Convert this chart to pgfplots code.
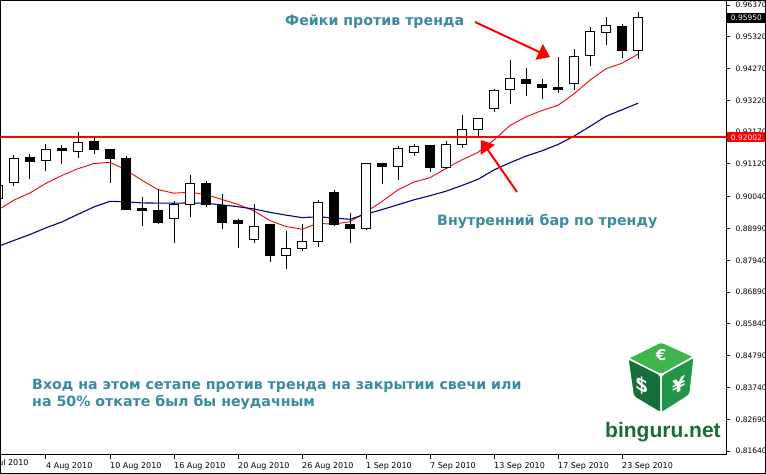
\documentclass[border=0pt]{standalone}
\usepackage{fontspec}
\setmainfont{DejaVu Sans}
\newfontfamily\logofont{Liberation Sans}
\usepackage{pgfplots}
\pgfplotsset{compat=1.18}
\usepackage{pgfplotstable}
\usepgfplotslibrary{statistics}
\usetikzlibrary{arrows.meta}

\definecolor{mtnavy}{RGB}{0,0,128}
\definecolor{mtred}{RGB}{255,0,0}
\definecolor{note}{RGB}{58,138,160}
\definecolor{cubetop}{RGB}{61,181,74}
\definecolor{cubeleft}{RGB}{22,110,56}
\definecolor{cuberight}{RGB}{32,150,70}
\definecolor{logotext}{RGB}{27,107,53}

% moving averages, one value per bar
\pgfplotstableread{
i  red     blue
0  0.89601 0.88399
1  0.89928 0.88597
2  0.90165 0.88792
3  0.90482 0.89013
4  0.90743 0.89208
5  0.90965 0.89459
6  0.91136 0.89703
7  0.91176 0.89888
8  0.90922 0.89872
9  0.90582 0.89835
10 0.90274 0.89829
11 0.90156 0.89825
12 0.90189 0.89835
13 0.90113 0.89822
14 0.89948 0.89769
15 0.89786 0.89710
16 0.89571 0.89634
17 0.89251 0.89525
18 0.89056 0.89432
19 0.88967 0.89350
20 0.89158 0.89376
21 0.89135 0.89337
22 0.89215 0.89294
23 0.89532 0.89465
24 0.89885 0.89614
25 0.90268 0.89776
26 0.90525 0.89938
27 0.90667 0.90073
28 0.90974 0.90222
29 0.91258 0.90410
30 0.91506 0.90615
31 0.91912 0.90925
32 0.92391 0.91163
33 0.92678 0.91381
34 0.92886 0.91556
35 0.93058 0.91764
36 0.93438 0.92041
37 0.93890 0.92361
38 0.94267 0.92695
39 0.94448 0.92909
40 0.94745 0.93127
}\matable

% level line
\pgfplotstableread{
x       y
0.15625 0.92002
45.5    0.92002
}\leveltable

\pgfplotsset{mtcandle/.style={draw=black, line width=1pt}}
% \bull{bar}{low}{open}{close}{high}   \bear{bar}{low}{close}{open}{high}
\newcommand{\bull}[5]{\addplot[mtcandle, fill=white, boxplot/every box/.style={fill=white},
  boxplot prepared={draw position=#1, lower whisker=#2, lower quartile=#3,
  median=#3, upper quartile=#4, upper whisker=#5}] coordinates {};}
\newcommand{\bear}[5]{\addplot[mtcandle, fill=black, boxplot/every box/.style={fill=black},
  boxplot prepared={draw position=#1, lower whisker=#2, lower quartile=#3,
  median=#3, upper quartile=#4, upper whisker=#5}] coordinates {};}

\begin{document}
\begin{tikzpicture}[x=1pt,y=1pt]
\useasboundingbox (0,0) rectangle (766,474);
\begin{axis}[
    at={(0.5pt,19pt)}, anchor=south west,
    scale only axis, width=725.5pt, height=454.5pt,
    xmin=0.15625, xmax=45.5, ymin=0.81511, ymax=0.96519,
    clip=false,
    axis line style={line width=1pt},
    tick style={black, line width=1pt},
    tick align=outside, major tick length=3.5pt,
    xtick pos=left, ytick pos=right, yticklabel pos=right,
    xtick={3,7,11,15,19,23,27,31,35,39},
    xticklabels={4 Aug 2010,10 Aug 2010,16 Aug 2010,20 Aug 2010,26 Aug 2010,
      1 Sep 2010,7 Sep 2010,13 Sep 2010,17 Sep 2010,23 Sep 2010},
    xticklabel style={font=\fontsize{8}{9}\selectfont, anchor=north west,
      inner sep=0pt, yshift=-4pt},
    ytick={0.96370,0.95320,0.94270,0.93220,0.92170,0.91120,0.90040,0.88990,
      0.87940,0.86890,0.85840,0.84790,0.83740,0.82690,0.81640},
    yticklabels={0.96370,0.95320,0.94270,0.93220,0.92170,0.91120,0.90040,0.88990,
      0.87940,0.86890,0.85840,0.84790,0.83740,0.82690,0.81640},
    yticklabel style={font=\fontsize{7.5}{9}\selectfont, anchor=west,
      inner sep=0pt, xshift=6pt},
    boxplot/draw direction=y, boxplot/box extend=0.6, boxplot/whisker extend=0,
  ]
\addplot[draw=mtred, line width=0.9pt, mark=none] table[x=i, y=red] {\matable};
\addplot[draw=mtnavy, line width=1.1pt, mark=none] table[x=i, y=blue] {\matable};

\bull{0}{0.89865}{0.89987}{0.90426}{0.90525}
\bull{1}{0.90403}{0.90516}{0.91308}{0.91417}
\bear{2}{0.90624}{0.91196}{0.91341}{0.91450}
\bull{3}{0.90899}{0.91242}{0.91605}{0.91780}
\bear{4}{0.91110}{0.91559}{0.91648}{0.91747}
\bull{5}{0.91308}{0.91533}{0.91836}{0.92176}
\bear{6}{0.91460}{0.91599}{0.91879}{0.92011}
\bear{7}{0.90502}{0.91295}{0.91615}{0.91615}
\bear{8}{0.89601}{0.89634}{0.91318}{0.91394}
\bear{9}{0.89082}{0.89578}{0.89667}{0.90030}
\bear{10}{0.89170}{0.89182}{0.89601}{0.90284}
\bull{11}{0.88521}{0.89314}{0.89799}{0.89898}
\bull{12}{0.89380}{0.89789}{0.90482}{0.90757}
\bear{13}{0.89690}{0.89776}{0.90492}{0.90558}
\bear{14}{0.88983}{0.89182}{0.89766}{0.90129}
\bear{15}{0.88356}{0.89162}{0.89247}{0.89294}
\bull{16}{0.88521}{0.88633}{0.89063}{0.89799}
\bear{17}{0.87894}{0.88092}{0.89106}{0.89110}
\bull{18}{0.87643}{0.88092}{0.88346}{0.88917}
\bull{19}{0.88257}{0.88336}{0.88577}{0.89129}
\bull{20}{0.88389}{0.88567}{0.89865}{0.89931}
\bear{21}{0.89105}{0.89115}{0.90172}{0.90261}
\bear{22}{0.88521}{0.88983}{0.89129}{0.89502}
\bull{23}{0.88950}{0.88983}{0.91120}{0.91125}
\bear{24}{0.90459}{0.91031}{0.91130}{0.91163}
\bull{25}{0.90591}{0.91044}{0.91638}{0.91724}
\bull{26}{0.91394}{0.91506}{0.91714}{0.91780}
\bear{27}{0.90866}{0.90998}{0.91747}{0.91750}
\bull{28}{0.90955}{0.91011}{0.91780}{0.91879}
\bull{29}{0.91658}{0.91770}{0.92275}{0.92738}
\bull{30}{0.92001}{0.92266}{0.92629}{0.92632}
\bull{31}{0.92847}{0.92946}{0.93563}{0.93606}
\bull{32}{0.93091}{0.93586}{0.93950}{0.94554}
\bear{33}{0.93375}{0.93784}{0.93926}{0.94290}
\bear{34}{0.93276}{0.93652}{0.93761}{0.93917}
\bear{35}{0.93474}{0.93586}{0.93662}{0.94663}
\bull{36}{0.93563}{0.93784}{0.94676}{0.94917}
\bull{37}{0.94366}{0.94709}{0.95511}{0.95653}
\bull{38}{0.95059}{0.95469}{0.95677}{0.95984}
\bear{39}{0.94630}{0.94861}{0.95644}{0.95743}
\bull{40}{0.94597}{0.94874}{0.95950}{0.96139}

\addplot[draw=mtred, line width=2pt, mark=none] table[x=x, y=y] {\leveltable};

\node[fill=black, text=white, anchor=west, inner sep=0pt, minimum width=39.5pt,
  minimum height=10pt, font=\fontsize{7.5}{9}\selectfont, xshift=0.5pt]
  at (axis cs:45.5,0.95950) {0.95950};
\node[fill=mtred, text=white, anchor=west, inner sep=0pt, minimum width=39.5pt,
  minimum height=10pt, font=\fontsize{7.5}{9}\selectfont, xshift=0.5pt]
  at (axis cs:45.5,0.92002) {0.92002};
\end{axis}

% first, cut date label
\node[anchor=north west, inner sep=0pt, font=\fontsize{8}{9}\selectfont] at (-17,15) {29 Jul 2010};

% notes
\begin{scope}[font=\bfseries\fontsize{14.2}{17}\selectfont, text=note]
\node[anchor=base west, inner sep=0pt] at (285,448) {Фейки против тренда};
\node[anchor=base west, inner sep=0pt] at (437,248) {Внутренний бар по тренду};
\node[anchor=base west, inner sep=0pt] at (32,84) {Вход на этом сетапе против тренда на закрытии свечи или};
\node[anchor=base west, inner sep=0pt] at (32,67.5) {на 50\% откате был бы неудачным};
\end{scope}

\draw[mtred, line width=2pt, -{Triangle[length=12pt,width=17pt]}] (475,452) -- (550,417);
\draw[mtred, line width=2pt, -{Triangle[length=12pt,width=17pt]}] (517,282) -- (481,334);

% logo
\begin{scope}[draw=white, line width=1.5pt, rounded corners=3pt]
\filldraw[fill=cubetop] (661,132.3) -- (627.7,115.7) -- (661,99) -- (694.3,117.3) -- cycle;
\filldraw[fill=cubeleft] (627.7,115.7) -- (661,99) -- (661,60.7) -- (633.3,77.3) -- cycle;
\filldraw[fill=cuberight] (661,99) -- (694.3,117.3) -- (690,79) -- (661,60.7) -- cycle;
\end{scope}
\node[text=white, font=\bfseries\fontsize{15}{16}\selectfont] at (661,119) {€};
\node[text=white, font=\bfseries\fontsize{19}{20}\selectfont, yslant=-0.45] at (642.5,88) {\$};
\node[text=white, font=\bfseries\fontsize{19}{20}\selectfont, yslant=0.5] at (679.5,89) {¥};
\node[anchor=base west, inner sep=0pt, text=logotext, font=\logofont\bfseries\fontsize{21}{24}\selectfont]
  at (605,36) {binguru.net};

\draw[line width=1pt] (0.5,0.5) rectangle (765.5,473.5);
\end{tikzpicture}
\end{document}
